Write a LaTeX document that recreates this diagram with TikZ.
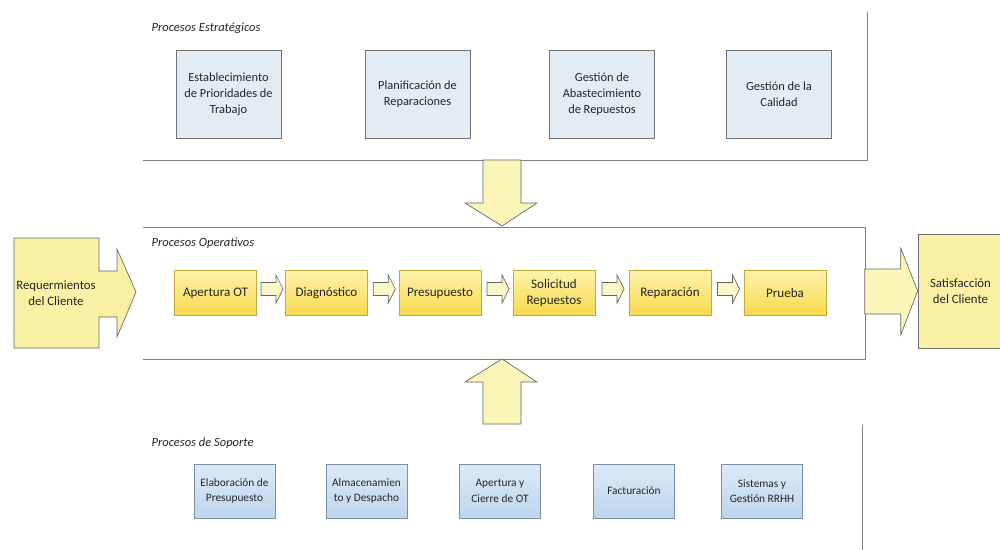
\documentclass[tikz,border=0pt]{standalone}
\usepackage{fontspec}
\setmainfont{Carlito}
\usetikzlibrary{calc}
\definecolor{stratfill}{HTML}{E3ECF3}
\definecolor{optop}{HTML}{FFF3AC}
\definecolor{opbot}{HTML}{F6D84A}
\definecolor{opline}{HTML}{C9A83A}
\definecolor{suptop}{HTML}{DDEAF7}
\definecolor{supbot}{HTML}{BCD5EE}
\definecolor{supline}{HTML}{7D8FA5}
\definecolor{arrfill}{HTML}{FBF5B8}
\definecolor{smfill}{HTML}{FBF7C8}
\definecolor{cbox}{HTML}{F9F0A6}
\begin{document}
\begin{tikzpicture}[x=0.75pt,y=-0.75pt,
 every node/.style={font=\fontsize{9.3}{12}\selectfont, text=black!85, align=center, inner sep=1pt},
 stratbox/.style={draw=black!55, fill=stratfill, line width=0.5pt, minimum width=78.75pt, minimum height=66pt},
 opbox/.style={draw=opline, top color=optop, bottom color=opbot, line width=0.5pt, minimum width=61.5pt, minimum height=33.75pt, font=\fontsize{9.8}{12}\selectfont},
 supbox/.style={draw=supline, top color=suptop, bottom color=supbot, line width=0.5pt, minimum width=60.75pt, minimum height=40.5pt, font=\fontsize{8.5}{11.5}\selectfont},
 panel/.style={draw=black!50, line width=0.5pt},
 bigarr/.style={draw=black!60, fill=arrfill, line width=0.5pt, line join=miter},
 smarr/.style={draw=black!60, fill=smfill, line width=0.5pt, line join=miter},
 endbox/.style={fill=cbox, draw=black!55, line width=0.5pt, font=\fontsize{9.6}{12}\selectfont},
 ptitle/.style={font=\fontsize{9.4}{11}\selectfont\itshape, anchor=west, text=black!85}]
\fill[white] (0,0) rectangle (1000,550);
\useasboundingbox (0,0) rectangle (1000,550);

% panels
\coordinate (topR) at (867,12);
\draw[panel] (143,160) -- (867,160) -- (topR);
\draw[panel] (143,227) -- (865,227) -- (865,359) -- (143,359);
\draw[panel] (862,425) -- (862,550);

% titles
\node[ptitle] (tS) at (150,28) {Procesos Estratégicos};
\node[ptitle] (tO) at (150,243) {Procesos Operativos};
\node[ptitle] (tP) at (150,443) {Procesos de Soporte};

% strategic
\node[stratbox] (s1) at (228.5,94) {Establecimiento\\de Prioridades de\\Trabajo};
\node[stratbox] (s2) at (417.5,94) {Planificación de\\Reparaciones};
\node[stratbox] (s3) at (602,94) {Gestión de\\Abastecimiento\\de Repuestos};
\node[stratbox] (s4) at (779,94) {Gestión de la\\Calidad};

% operative
\node[opbox] (o1) at (215.5,293) {Apertura OT};
\node[opbox] (o2) at (326.5,293) {Diagnóstico};
\node[opbox] (o3) at (440,293) {Presupuesto};
\node[opbox] (o4) at (554,293) {Solicitud\\Repuestos};
\node[opbox] (o5) at (670,293) {Reparación};
\node[opbox] (o6) at (785,293) {Prueba};

\foreach \a/\b in {o1/o2,o2/o3,o3/o4,o4/o5,o5/o6}{
  \draw[smarr, shift={($(\a.east)!0.5!(\b.west)+(0,-4)$)}]
    (-10,-6.5) -- (5,-6.5) -- (5,-14) -- (12,0) -- (5,14) -- (5,6.5) -- (-10,6.5) -- cycle;
}

% support
\node[supbox] (p1) at (234.5,491) {Elaboración de\\Presupuesto};
\node[supbox] (p2) at (366.5,491) {Almacenamien\\to y Despacho};
\node[supbox] (p3) at (500,491) {Apertura y\\Cierre de OT};
\node[supbox] (p4) at (634,491) {Facturación};
\node[supbox] (p5) at (762,491) {Sistemas y\\Gestión RRHH};

% input callout
\draw[bigarr, fill=cbox] (14,238) -- (99,238) -- (99,271) -- (117,271) -- (117,249) -- (136,292)
  -- (117,337) -- (117,317) -- (99,317) -- (99,348) -- (14,348) -- cycle;
\node[font=\fontsize{9.6}{12}\selectfont] (req) at (56,293) {Requermientos\\del Cliente};

% output
\node[endbox, minimum width=63.75pt, minimum height=85.5pt] (sat) at (960.5,291) {Satisfacción\\del Cliente};
\draw[bigarr, shift={(sat.west)}] (-53,-22) -- (-17,-22) -- (-17,-43) -- (0,0) -- (-17,44) -- (-17,23) -- (-53,23) -- cycle;

% vertical arrows
\coordinate (dn) at (502,226);
\draw[bigarr] (483,160) -- (521,160) -- (521,203) -- (537,203) -- (dn) -- (465,203) -- (483,203) -- cycle;
\coordinate (up) at (502,359);
\draw[bigarr] (483,424) -- (521,424) -- (521,382) -- (537,382) -- (up) -- (465,382) -- (483,382) -- cycle;
\end{tikzpicture}
\end{document}
